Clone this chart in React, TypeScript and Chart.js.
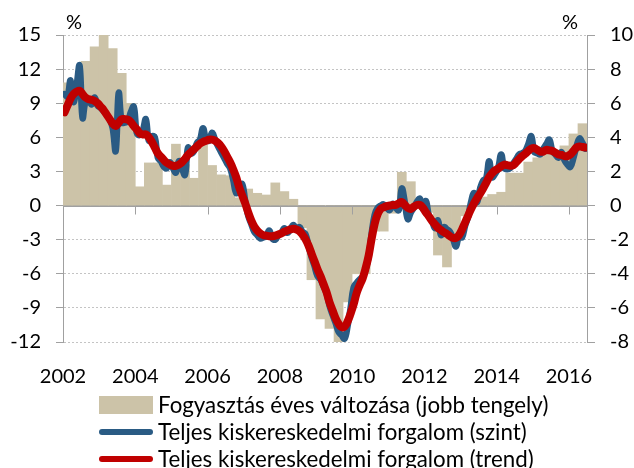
import React, { useEffect, useRef } from 'react';
import { Chart, registerables } from 'chart.js';

Chart.register(...registerables);

// ---- data ----
const firstYear = 2002;
const yearTicks = [2002, 2004, 2006, 2008, 2010, 2012, 2014, 2016];

// Fogyasztás éves változása (quarterly, right axis), 2002Q1 .. 2016Q2
const consumption = [
  7.2, 7.3, 8.45, 9.3, 10.0, 9.2, 7.75, 6.0,
  1.1, 2.5, 2.5, 1.2, 3.6, 2.4, 1.6, 3.55,
  2.35, 1.8, 1.75, 0.45, 0.97, 0.72, 0.62, 1.33,
  0.82, 0.37, -1.3, -4.35, -6.64, -7.2, -8.0, -5.65,
  -4.0, -4.0, -1.5, -1.5, -0.45, 1.95, 1.4, 0.2,
  -0.4, -2.9, -3.6, -2.1, -0.6, 0.3, 0.5, 0.65,
  0.78, 1.9, 1.9, 2.55, 2.8, 3.1, 3.2, 3.5,
  4.2, 4.8,
];

// Teljes kiskereskedelmi forgalom (szint), monthly, left axis
const retailLevel = [
  9.8, 9.6, 11.0, 9.1, 10.5, 12.3, 7.7, 9.2, 9.3, 8.9, 9.5, 8.8,
  8.6, 8.3, 8.0, 7.6, 6.8, 4.8, 9.9, 7.3, 7.3, 7.4, 8.2, 8.7,
  6.4, 6.2, 6.6, 7.6, 5.7, 6.1, 6.0, 4.2, 3.9, 3.4, 3.3, 3.8,
  3.3, 2.9, 3.9, 3.3, 2.7, 5.1, 4.6, 4.8, 5.5, 5.8, 6.8, 5.8,
  5.7, 6.4, 5.8, 5.2, 4.7, 4.2, 3.7, 3.3, 2.3, 1.1, 1.4, 1.9,
  0.4, -0.9, -1.6, -2.3, -2.6, -2.9, -2.8, -2.7, -2.2, -2.9, -3.0, -2.6,
  -2.4, -2.0, -2.4, -2.1, -1.7, -2.1, -1.9, -2.3, -2.5, -3.5, -4.5, -5.3,
  -6.2, -6.5, -7.1, -7.7, -8.8, -9.6, -10.3, -11.1, -11.4, -11.7, -10.6, -9.0,
  -7.2, -6.8, -6.5, -6.25, -5.6, -4.5, -2.4, -0.8, -0.2, 0.0, 0.1, -0.2,
  -0.4, 0.15, -0.2, -0.4, 1.5, 0.3, -1.2, -0.6, -0.2, 0.3, 0.6, -0.3,
  0.4, -0.9, -1.3, -2.0, -1.3, -2.6, -1.9, -2.1, -2.3, -2.9, -3.6, -2.6,
  -2.8, -1.8, -1.0, 0.3, 1.1, 0.3, 1.5, 2.2, 2.4, 3.9, 2.5, 2.8,
  3.3, 4.5, 3.3, 3.2, 3.3, 3.7, 4.1, 4.5, 4.6, 4.8, 5.4, 6.1,
  4.7, 4.6, 4.5, 5.0, 5.4, 5.8, 4.8, 4.5, 4.2, 4.7, 4.0, 3.6,
  3.4, 4.2, 5.2, 5.9, 5.5, 5.0,
];

// Teljes kiskereskedelmi forgalom (trend), monthly, left axis
const retailTrend = [
  8.2, 8.8, 9.4, 9.8, 10.0, 10.1, 9.8, 9.5, 9.35, 9.3, 9.2, 9.0,
  8.7, 8.4, 8.0, 7.6, 7.2, 7.0, 7.3, 7.6, 7.6, 7.55, 7.35, 7.0,
  6.7, 6.35, 6.25, 6.25, 6.0, 5.6, 5.1, 4.6, 4.3, 4.0, 3.75, 3.6,
  3.5, 3.5, 3.6, 3.8, 4.1, 4.45, 4.7, 4.95, 5.2, 5.45, 5.6, 5.7,
  5.8, 5.8, 5.7, 5.5, 5.2, 4.8, 4.3, 3.8, 3.2, 2.5, 1.6, 0.9,
  0.2, -0.6, -1.3, -1.85, -2.2, -2.45, -2.6, -2.65, -2.7, -2.7, -2.65, -2.55,
  -2.45, -2.3, -2.2, -2.1, -2.05, -2.1, -2.25, -2.55, -2.95, -3.5, -4.2, -4.9,
  -5.6, -6.2, -6.9, -7.6, -8.5, -9.2, -9.9, -10.4, -10.7, -10.65, -10.2, -9.5,
  -8.7, -7.7, -7.0, -6.4, -5.5, -4.4, -2.9, -1.6, -0.75, -0.3, -0.15, -0.05,
  0.0, 0.05, 0.05, 0.2, 0.3, 0.05, -0.2, -0.3, -0.1, 0.05, 0.05, -0.2,
  -0.6, -0.95, -1.35, -1.65, -1.95, -2.15, -2.35, -2.5, -2.7, -2.85, -2.85, -2.6,
  -2.1, -1.5, -0.9, -0.3, 0.2, 0.65, 1.05, 1.5, 2.0, 2.5, 2.85, 3.1,
  3.25, 3.45, 3.6, 3.55, 3.5, 3.55, 3.8, 4.1, 4.35, 4.55, 4.8, 5.0,
  5.05, 4.9, 4.75, 4.75, 4.9, 4.85, 4.8, 4.65, 4.5, 4.45, 4.35, 4.35,
  4.5, 4.8, 5.1, 5.2, 5.15, 5.1,
];

const legendLabels = [
  'Fogyasztás éves változása (jobb tengely)',
  'Teljes kiskereskedelmi forgalom (szint)',
  'Teljes kiskereskedelmi forgalom (trend)',
];
const unitLabel = '%';

// ---- styles ----
const FONT = 'Lato';
const TAN = '#ccc3a8';
const BLUE = '#2a5b84';
const RED = '#c00000';
const AXIS = '#a0a0a0';
const GRID = '#c4c4c4';

const monthsTotal = retailTrend.length;

const decorPlugin = {
  id: 'decor',
  afterDatasetDraw(chart: any, args: any) {
    if (args.index !== 0) return;
    const { ctx, chartArea, scales } = chart;
    const x = scales.x;
    const y = scales.y;
    const y0 = Math.round(y.getPixelForValue(0)) + 0.5;
    ctx.save();
    ctx.strokeStyle = AXIS;
    ctx.lineWidth = 1;
    ctx.beginPath();
    ctx.moveTo(chartArea.left, y0);
    ctx.lineTo(chartArea.right, y0);
    ctx.stroke();
    yearTicks.forEach((yr) => {
      const m = (yr - firstYear) * 12;
      if (m === 0) return;
      const px = Math.round(x.getPixelForValue(m)) + 0.5;
      ctx.beginPath();
      ctx.moveTo(px, y0);
      ctx.lineTo(px, y0 + 8);
      ctx.stroke();
    });
    ctx.restore();
  },
  afterDraw(chart: any) {
    const { ctx, chartArea } = chart;
    ctx.save();
    ctx.fillStyle = '#000';
    ctx.font = `20px ${FONT}`;
    ctx.textBaseline = 'middle';
    ctx.textAlign = 'left';
    ctx.fillText(unitLabel, chartArea.left + 3, chartArea.top - 12);
    ctx.textAlign = 'right';
    ctx.fillText(unitLabel, chartArea.right - 9, chartArea.top - 12);

    // legend
    const sx = 99;
    const sw = 54;
    const tx = 158;
    const rows = [405, 432, 459];
    ctx.textAlign = 'left';
    ctx.font = `22.3px ${FONT}`;
    ctx.fillStyle = TAN;
    ctx.fillRect(sx, rows[0] - 9, sw, 18);
    ctx.lineCap = 'round';
    ctx.lineWidth = 6;
    ctx.strokeStyle = BLUE;
    ctx.beginPath();
    ctx.moveTo(sx + 3, rows[1]);
    ctx.lineTo(sx + sw - 3, rows[1]);
    ctx.stroke();
    ctx.strokeStyle = RED;
    ctx.beginPath();
    ctx.moveTo(sx + 3, rows[2]);
    ctx.lineTo(sx + sw - 3, rows[2]);
    ctx.stroke();
    ctx.fillStyle = '#000';
    legendLabels.forEach((lab, i) => ctx.fillText(lab, tx, rows[i] + 1));
    ctx.restore();
  },
};

export default function App() {
  const ref = useRef<HTMLCanvasElement | null>(null);

  useEffect(() => {
    if (!ref.current) return;
    Chart.defaults.font.family = FONT;
    Chart.defaults.color = '#000';
    const chart = new Chart(ref.current, {
      type: 'bar',
      data: {
        datasets: [
          {
            type: 'bar',
            label: legendLabels[0],
            data: consumption.map((v, i) => ({ x: i * 3 + 1.5, y: v })),
            backgroundColor: TAN,
            borderWidth: 0,
            barPercentage: 1,
            categoryPercentage: 1,
            yAxisID: 'y1',
            order: 3,
          },
          {
            type: 'line',
            label: legendLabels[1],
            data: retailLevel.map((v, i) => ({ x: i + 0.5, y: v })),
            borderColor: BLUE,
            backgroundColor: BLUE,
            borderWidth: 6.5,
            pointRadius: 0,
            tension: 0.4,
            borderCapStyle: 'round',
            borderJoinStyle: 'round',
            yAxisID: 'y',
            order: 2,
          },
          {
            type: 'line',
            label: legendLabels[2],
            data: retailTrend.map((v, i) => ({ x: i + 0.5, y: v })),
            borderColor: RED,
            backgroundColor: RED,
            borderWidth: 8,
            pointRadius: 0,
            tension: 0.4,
            borderCapStyle: 'round',
            borderJoinStyle: 'round',
            yAxisID: 'y',
            order: 1,
          },
        ],
      } as any,
      options: {
        animation: false,
        responsive: false,
        devicePixelRatio: 1,
        layout: { padding: { top: 35, left: 0, right: 0, bottom: 0 } },
        plugins: { legend: { display: false }, tooltip: { enabled: false } },
        scales: {
          x: {
            type: 'linear',
            offset: false,
            min: 0,
            max: monthsTotal,
            grid: { display: false, drawTicks: false, offset: false },
            border: { display: false },
            afterBuildTicks: (scale: any) => {
              scale.ticks = yearTicks.map((yr) => ({ value: (yr - firstYear) * 12 }));
            },
            afterFit: (scale: any) => {
              scale.height = 126;
            },
            ticks: {
              autoSkip: false,
              maxRotation: 0,
              padding: 23,
              font: { size: 20, family: FONT },
              color: '#000',
              callback: (v: any) => String(firstYear + Number(v) / 12),
            },
          },
          y: {
            type: 'linear',
            position: 'left',
            min: -12,
            max: 15,
            afterFit: (scale: any) => {
              scale.width = 63;
            },
            ticks: { stepSize: 3, padding: 15, font: { size: 20, family: FONT }, color: '#000' },
            grid: {
              color: (c: any) => (c.tick && c.tick.value === 0 ? AXIS : GRID),
              lineWidth: 1,
              tickLength: 7,
              tickColor: AXIS,
            },
            border: {
              display: true,
              color: AXIS,
              width: 1,
              dash: (c: any) => (c.tick && c.tick.value === 0 ? [] : [2, 2]),
            },
          },
          y1: {
            type: 'linear',
            position: 'right',
            min: -8,
            max: 10,
            afterFit: (scale: any) => {
              scale.width = 47;
            },
            ticks: { stepSize: 2, padding: 15, font: { size: 20, family: FONT }, color: '#000' },
            grid: { drawOnChartArea: false, tickLength: 8, tickColor: AXIS, color: AXIS },
            border: { display: true, color: AXIS, width: 1 },
          },
        },
      } as any,
      plugins: [decorPlugin],
    });
    return () => chart.destroy();
  }, []);

  return (
    <div style={{ position: 'fixed', left: 0, top: 0, width: 634, height: 468, background: '#fff' }}>
      <canvas ref={ref} width={634} height={468} style={{ width: 634, height: 468, display: 'block' }} />
    </div>
  );
}
